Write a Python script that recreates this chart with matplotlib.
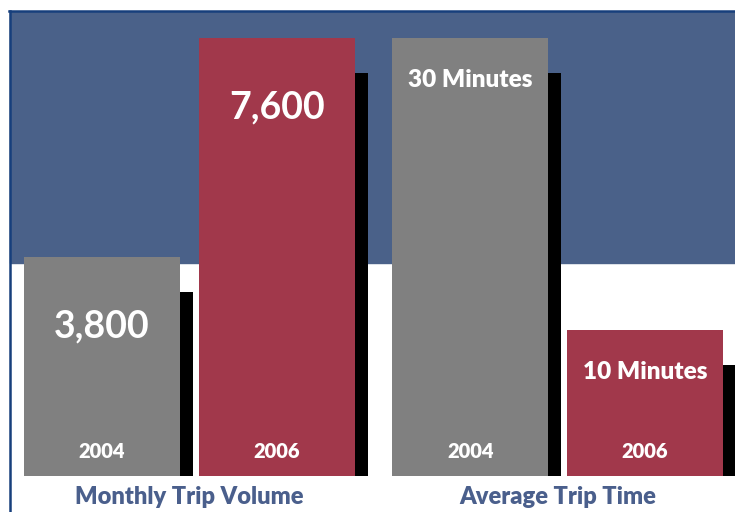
import matplotlib
matplotlib.use('Agg')
import matplotlib.pyplot as plt
from matplotlib.patches import Rectangle
from matplotlib.lines import Line2D

# data
groups = ['Monthly Trip Volume', 'Average Trip Time']
years = ['2004', '2006']
trip_volume = [3800, 7600]
trip_time = [30, 10]
volume_labels = ['3,800', '7,600']
time_labels = ['30 Minutes', '10 Minutes']

blue = '#4a6189'
border = '#173f7c'
gray = '#808080'
red = '#a1384b'
label_col = '#4a5f8c'
plt.rcParams['font.family'] = ['Lato', 'DejaVu Sans']

W, H = 735, 512
fig = plt.figure(figsize=(W / 100, H / 100), dpi=100)
fig.patch.set_facecolor('white')

# blue band behind the top half + frame lines
fig.add_artist(Rectangle((10 / W, (H - 263) / H), 1 - 10 / W, 251 / H,
                         transform=fig.transFigure, color=blue, zorder=0))
fig.add_artist(Line2D([10 / W, 10 / W], [0, (H - 11) / H], transform=fig.transFigure,
                      color=border, lw=1.8))
fig.add_artist(Line2D([9 / W, 1], [(H - 11) / H, (H - 11) / H], transform=fig.transFigure,
                      color=border, lw=1.8))

bw = 156 / 175      # bar width in data units (step between bars = 1)
dx = 13 / 175       # shadow shift
drop_px = 35        # shadow is shorter than the bar by this many pixels
ax_h = 464          # axes height px


def panel(left_px, width_px, xl, vals, vlabels, vsize, vweight, vpad, title):
    ax = fig.add_axes([left_px / W, 36 / H, width_px / W, ax_h / H])
    ax.set_facecolor('none')
    ymax = max(vals) * ax_h / 438
    drop = drop_px / ax_h * ymax
    x = range(len(vals))
    ax.bar([i + dx for i in x], [v - drop for v in vals], width=bw, color='black', zorder=1)
    ax.bar(x, vals, width=bw, color=[gray, red], zorder=2)
    for i, v in enumerate(vals):
        ax.annotate(vlabels[i], (i, v), xytext=(0, -vpad), textcoords='offset points',
                    ha='center', va='center', color='white', fontsize=vsize,
                    fontweight=vweight, zorder=3)
        ax.annotate(years[i], (i, 0), xytext=(0, 18), textcoords='offset points',
                    ha='center', va='center', color='white', fontsize=14.5,
                    fontweight='heavy', zorder=3)
    ax.annotate(title, (0.5, 0), xycoords=('data', 'axes fraction'), xytext=(0, -15),
                textcoords='offset points', ha='center', va='center', color=label_col,
                fontsize=17, fontweight='heavy')
    ax.set_xlim(*xl)
    ax.set_ylim(0, ymax)
    ax.axis('off')
    return ax


panel(10, 366, (-0.526, 1.566), trip_volume, volume_labels, 27, 'bold', 50, groups[0])
panel(376, 359, (-0.54, 1.514), trip_time, time_labels, 17.5, 'heavy', 30, groups[1])

fig.savefig('out.png', dpi=100)
